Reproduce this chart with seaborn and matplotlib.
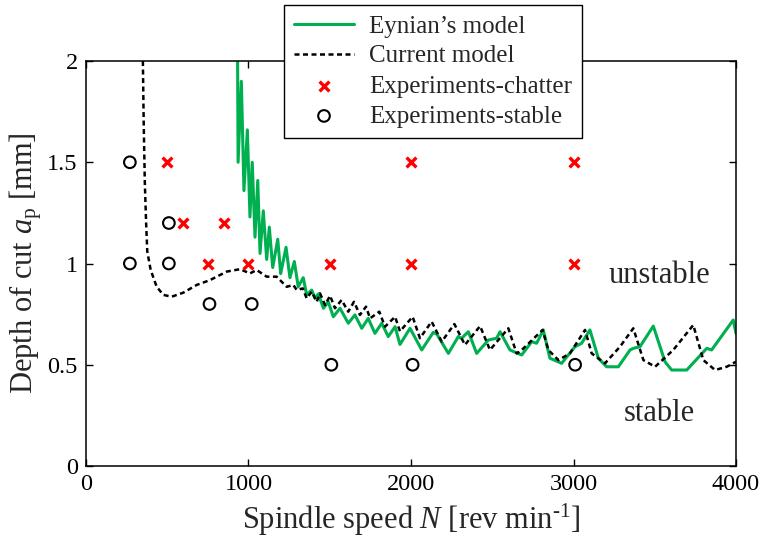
import numpy as np
import pandas as pd
import matplotlib
matplotlib.use("Agg")
import matplotlib.pyplot as plt
import seaborn as sns

# ----- data -----
eynian_rpm = [933, 936, 956, 972, 993, 1009, 1023, 1040, 1057, 1071, 1091, 1112,
              1128, 1149, 1180, 1198, 1231, 1255, 1282, 1306, 1337, 1358, 1389,
              1409, 1430, 1461, 1491, 1522, 1563, 1614, 1655, 1697, 1737, 1778,
              1820, 1860, 1902, 1932, 1994, 2066, 2137, 2160, 2230, 2291, 2310,
              2353, 2404, 2476, 2527, 2548, 2609, 2681, 2743, 2773, 2814, 2855,
              2927, 3009, 3050, 3101, 3153, 3204, 3276, 3348, 3368, 3409, 3491,
              3563, 3604, 3697, 3820, 3850, 3983, 4000]
eynian_ap = [2.0, 1.5, 1.9, 1.36, 1.66, 1.23, 1.50, 1.13, 1.41, 1.05, 1.26, 1.02,
             1.18, 0.98, 1.12, 0.95, 1.08, 0.93, 1.01, 0.885, 0.93, 0.845, 0.869,
             0.828, 0.85, 0.779, 0.811, 0.737, 0.779, 0.705, 0.746, 0.68, 0.729,
             0.655, 0.705, 0.639, 0.688, 0.600, 0.68, 0.573, 0.66, 0.65, 0.556,
             0.639, 0.63, 0.663, 0.556, 0.622, 0.631, 0.663, 0.573, 0.548, 0.614,
             0.606, 0.672, 0.532, 0.507, 0.589, 0.606, 0.672, 0.532, 0.49, 0.49,
             0.573, 0.581, 0.589, 0.691, 0.515, 0.474, 0.474, 0.581, 0.573, 0.721,
             0.655]

current_rpm = [350, 355, 362, 370, 377, 398, 435, 476, 527, 599, 681, 763, 866,
               948, 1009, 1050, 1112, 1173, 1235, 1276, 1297, 1334, 1358, 1389,
               1420, 1440, 1471, 1502, 1532, 1573, 1614, 1649, 1686, 1723, 1748,
               1805, 1840, 1902, 1932, 2010, 2055, 2127, 2189, 2267, 2332, 2425,
               2486, 2599, 2650, 2671, 2810, 2845, 2907, 2978, 3071, 3112, 3194,
               3286, 3368, 3430, 3502, 3614, 3737, 3799, 3871, 3943, 4000]
current_ap = [2.0, 1.7, 1.4, 1.2, 1.06, 0.968, 0.885, 0.845, 0.836, 0.856, 0.894,
              0.918, 0.96, 0.972, 0.951, 0.968, 0.935, 0.935, 0.885, 0.894, 0.869,
              0.877, 0.828, 0.861, 0.811, 0.853, 0.795, 0.841, 0.779, 0.82, 0.762,
              0.811, 0.746, 0.787, 0.729, 0.762, 0.688, 0.737, 0.665, 0.737, 0.631,
              0.713, 0.614, 0.701, 0.598, 0.691, 0.573, 0.68, 0.556, 0.565, 0.672,
              0.573, 0.523, 0.556, 0.672, 0.556, 0.507, 0.589, 0.68, 0.523, 0.49,
              0.573, 0.696, 0.523, 0.474, 0.49, 0.515]

chatter_rpm = [500, 2000, 3000, 600, 850, 750, 1000, 1500, 2000, 3000]
chatter_ap = [1.5, 1.5, 1.5, 1.2, 1.2, 1.0, 1.0, 1.0, 1.0, 1.0]

stable_rpm = [270, 270, 510, 510, 760, 1020, 1510, 2010, 3010]
stable_ap = [1.5, 1.0, 1.2, 1.0, 0.8, 0.8, 0.5, 0.5, 0.5]

x_ticks = [0, 1000, 2000, 3000, 4000]
y_ticks = [0, 0.5, 1, 1.5, 2]
y_tick_labels = ["0", "0.5", "1", "1.5", "2"]

GREEN = "#00b050"

# ----- style -----
sns.set_style("ticks")
plt.rcParams["font.family"] = ["Liberation Serif", "DejaVu Serif"]
plt.rcParams["mathtext.fontset"] = "custom"
plt.rcParams["mathtext.rm"] = "Liberation Serif"
plt.rcParams["mathtext.it"] = "Liberation Serif:italic"
plt.rcParams["axes.edgecolor"] = "black"
plt.rcParams["axes.linewidth"] = 1.1

fig = plt.figure(figsize=(7.59, 5.45), dpi=100)
ax = fig.add_axes([0.1133, 0.145, 0.8564, 0.743])

sns.lineplot(x=eynian_rpm, y=eynian_ap, sort=False, estimator=None, ax=ax,
             color=GREEN, linewidth=2.2, label="Eynian\u2019s model")
sns.lineplot(x=current_rpm, y=current_ap, sort=False, estimator=None, ax=ax,
             color="black", linewidth=1.8, linestyle=(0, (2.0, 1.4)),
             label="Current model")
sns.scatterplot(x=chatter_rpm, y=chatter_ap, ax=ax, marker="x", color="red",
                s=50, linewidth=2.4, label="Experiments-chatter", zorder=5)
sns.scatterplot(x=stable_rpm, y=stable_ap, ax=ax, marker="o", facecolor="none",
                edgecolor="black", s=70, linewidth=1.5,
                label="Experiments-stable", zorder=5)

ax.set_xlim(0, 4000)
ax.set_ylim(0, 2)
ax.set_xticks(x_ticks)
ax.set_yticks(y_ticks)
ax.set_yticklabels(y_tick_labels)
ax.tick_params(direction="in", top=True, right=True, labelsize=17.5,
               length=5, width=1, colors="black", pad=6)
ax.set_xlabel("Spindle speed $N$ [rev min$^{\\text{-1}}$]", fontsize=22, labelpad=5)
ax.set_ylabel("Depth of cut $a_{\\mathrm{p}}$ [mm]", fontsize=22, labelpad=2)

ax.text(3530, 0.94, "unstable", fontsize=22, ha="center", va="center")
ax.text(3530, 0.26, "stable", fontsize=22, ha="center", va="center")

handles, labels = ax.get_legend_handles_labels()
ax.legend(handles, labels, loc="upper left",
          bbox_to_anchor=(284 / 759, 1 - 5 / 545), bbox_transform=fig.transFigure,
          fontsize=18, frameon=True, fancybox=False, framealpha=1,
          edgecolor="black", handlelength=2.4, handletextpad=0.6,
          labelspacing=0.3, borderpad=0.4, borderaxespad=0)
ax.get_legend().get_frame().set_linewidth(1.0)

fig.savefig("out.png", dpi=100)
